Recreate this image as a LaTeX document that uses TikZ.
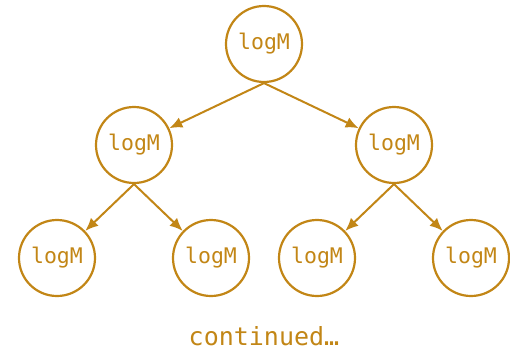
\documentclass[tikz,border=0pt]{standalone}
\usepackage{fontspec}
\setmonofont{DejaVu Sans Mono}
\usetikzlibrary{arrows.meta}
\definecolor{gold}{RGB}{194,134,22}
\begin{document}
\begin{tikzpicture}[x=1pt,y=-1pt,
  tn/.style={circle,draw=gold,line width=2.2pt,minimum size=76pt,inner sep=0pt,text=gold,font=\ttfamily\fontsize{21.5}{24}\selectfont},
  edge/.style={draw=gold,line width=2pt,-{Latex[length=13pt,width=11pt]}}]
\useasboundingbox (0,0) rectangle (510,353);
\node[tn] (r) at (264,44) {logM};
\node[tn] (a) at (134,145) {logM};
\node[tn] (b) at (394,145) {logM};
\node[tn] (a1) at (57,258) {logM};
\node[tn] (a2) at (211,258) {logM};
\node[tn] (b1) at (317,258) {logM};
\node[tn] (b2) at (471,258) {logM};
\node[text=gold,inner sep=0pt,font=\ttfamily\fontsize{25}{28}\selectfont] (c) at (264,336) {continued…};
\draw[edge] (r.south) -- (a);
\draw[edge] (r.south) -- (b);
\draw[edge] (a.south) -- (a1);
\draw[edge] (a.south) -- (a2);
\draw[edge] (b.south) -- (b1);
\draw[edge] (b.south) -- (b2);
\end{tikzpicture}
\end{document}
